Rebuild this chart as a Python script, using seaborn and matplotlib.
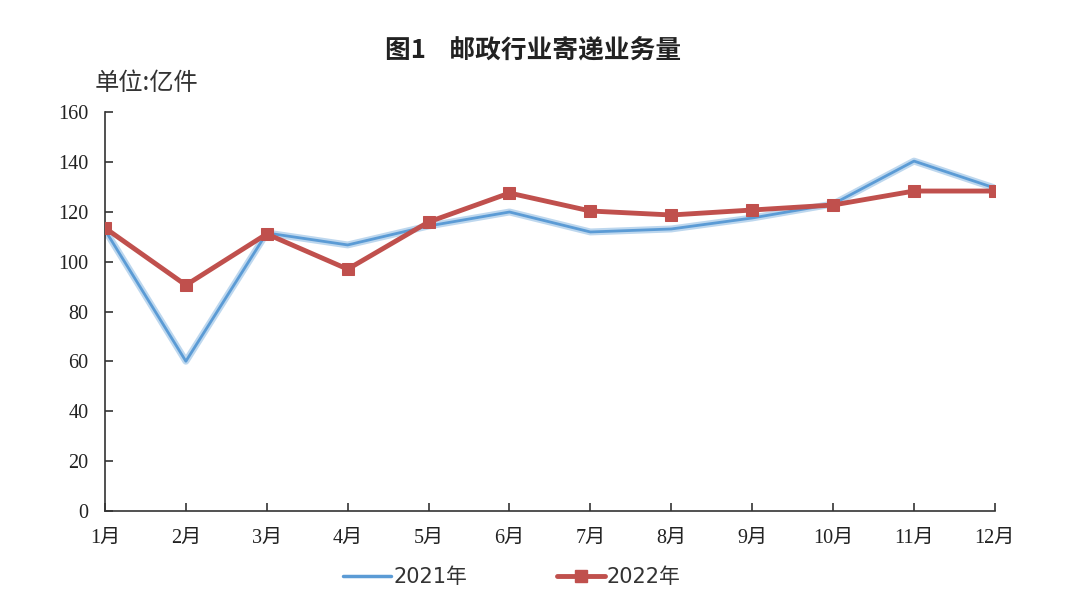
import pandas as pd
import matplotlib.pyplot as plt
import seaborn as sns
from matplotlib.lines import Line2D

# data
months = ['1月', '2月', '3月', '4月', '5月', '6月', '7月', '8月', '9月', '10月', '11月', '12月']
vol_2021 = [112.7, 60.1, 111.5, 106.7, 114.3, 119.9, 111.9, 113.1, 117.5, 123.1, 140.3, 129.5]
vol_2022 = [113.5, 90.6, 111.1, 97.0, 115.9, 127.5, 120.3, 118.7, 120.7, 122.7, 128.3, 128.3]
y_ticks = [0, 20, 40, 60, 80, 100, 120, 140, 160]

sns.set_style('white', {'xtick.direction': 'in', 'ytick.direction': 'in',
                        'xtick.bottom': True, 'ytick.left': True})
plt.rcParams['font.family'] = ['Liberation Serif', 'Noto Sans CJK SC', 'DejaVu Sans']
plt.rcParams['xtick.direction'] = 'in'
plt.rcParams['ytick.direction'] = 'in'

df = pd.DataFrame({'x': range(len(months)), '2021': vol_2021, '2022': vol_2022})

fig = plt.figure(figsize=(10.8, 6.05), dpi=100)
ax = fig.add_axes([0.0972, 0.155, 0.824, 0.66])

blue = '#5B9BD5'
red = '#C0504D'

# soft halo under the blue line
sns.lineplot(data=df, x='x', y='2021', ax=ax, color='#BDD7EE', linewidth=5, zorder=2)
sns.lineplot(data=df, x='x', y='2021', ax=ax, color=blue, linewidth=2, zorder=3)
sns.lineplot(data=df, x='x', y='2022', ax=ax, color=red, linewidth=3.5,
             marker='s', markersize=9, markeredgecolor=red, zorder=4)

ax.set_xlim(0, 11)
ax.set_ylim(0, 160)
ax.set_xticks(range(len(months)))
ax.set_xticklabels(months)
ax.set_yticks(y_ticks)
ax.set_xlabel('')
ax.set_ylabel('')

for s in ['top', 'right']:
    ax.spines[s].set_visible(False)
for s in ['left', 'bottom']:
    ax.spines[s].set_color('#333333')
    ax.spines[s].set_linewidth(1.2)

ax.tick_params(axis='both', which='major', direction='in', length=6, width=1.2,
               color='#333333', labelsize=14.5, labelcolor='#222222',
               bottom=True, left=True)
ax.tick_params(axis='x', pad=13)
ax.tick_params(axis='y', pad=12)

fig.text(0.494, 0.918, '图1    邮政行业寄递业务量', ha='center', va='center',
         fontsize=18.5, fontweight='bold', family=['Noto Sans CJK SC', 'DejaVu Sans'], color='#222222')
fig.text(0.088, 0.862, '单位:亿件', ha='left', va='center', fontsize=17.5,
         family=['Noto Sans CJK SC', 'DejaVu Sans'], color='#333333')

handles = [
    Line2D([], [], color=blue, linewidth=2.5),
    Line2D([], [], color=red, linewidth=3.5, marker='s', markersize=8),
]
leg = fig.legend(handles, ['2021年', '2022年'], loc='center', bbox_to_anchor=(0.474, 0.046),
                 ncol=2, frameon=False, handlelength=2.3, columnspacing=4.3, handletextpad=0.1,
                 prop={'family': ['DejaVu Sans', 'Noto Sans CJK SC'], 'size': 15})
for t in leg.get_texts():
    t.set_color('#333333')

fig.savefig('out.png', dpi=100)
